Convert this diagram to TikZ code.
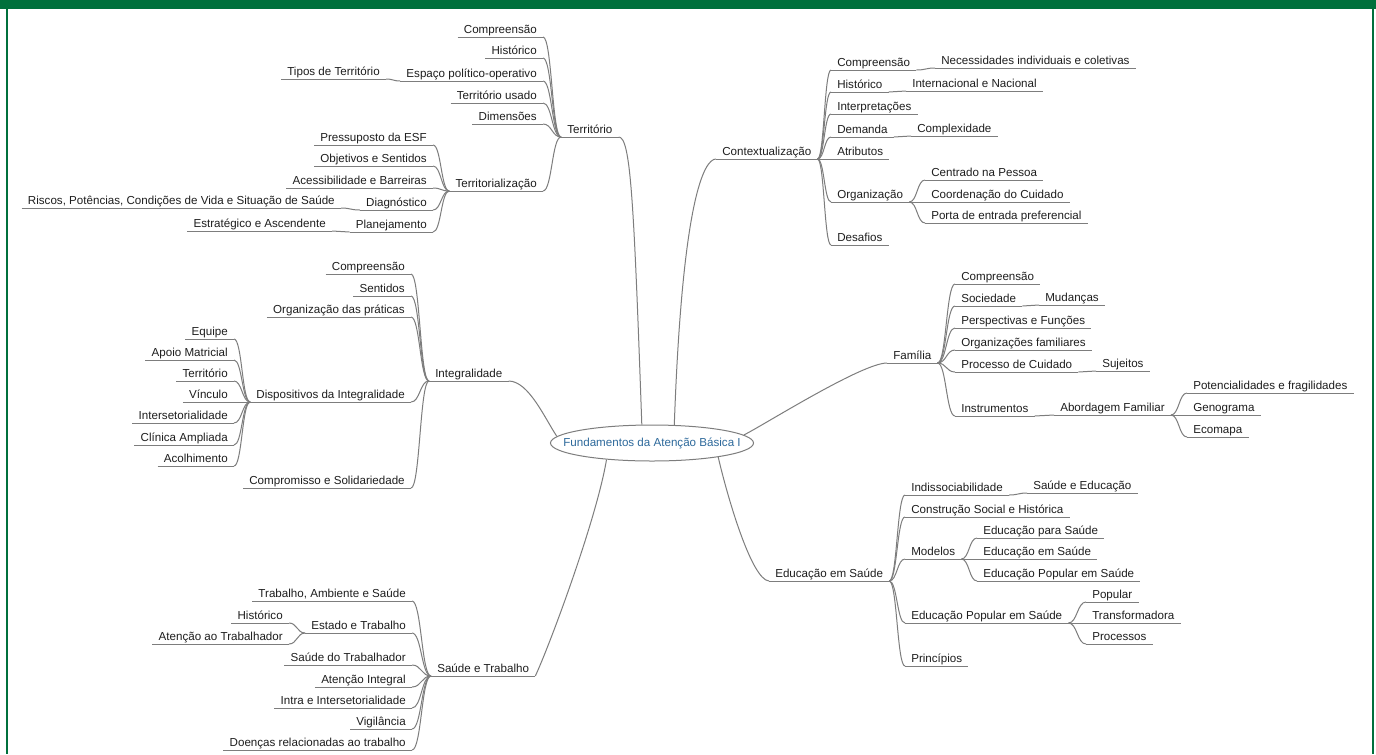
\documentclass[tikz,border=0pt]{standalone}
\usepackage{fontspec}
\setmainfont{Liberation Sans}
\usetikzlibrary{calc,shapes.geometric}
\definecolor{frame}{RGB}{0,112,60}
\definecolor{ln}{RGB}{125,125,125}
\definecolor{txt}{RGB}{30,30,30}
\definecolor{ctr}{RGB}{45,105,155}
\begin{document}
\begin{tikzpicture}[x=0.75pt,y=-0.75pt,
  ul/.style={draw=ln,line width=0.75pt},
  tb/.style={font=\fontsize{8.7}{10}\selectfont, text=txt, inner xsep=4.5pt, inner ysep=0.75pt,
    text height=6.4pt, text depth=2pt,
    append after command={(\tikzlastnode.south west) edge[ul] (\tikzlastnode.south east)}},
  lt/.style={tb,anchor=south east},
  rt/.style={tb,anchor=south west},
  fork/.style={ul, to path={let \p1=(\tikztostart), \p2=(\tikztotarget) in
    .. controls ({0.5*\x1+0.5*\x2},\y1) and ({0.5*\x1+0.5*\x2},\y2) .. (\tikztotarget)}},
  center/.style={ellipse, draw=ln, line width=0.75pt, minimum width=152.25pt, minimum height=27pt,
    inner sep=0pt, text=ctr, font=\fontsize{8.7}{10}\selectfont}
]
\useasboundingbox (0,0) rectangle (1376,754);
\fill[white] (0,0) rectangle (1376,754);
\fill[frame] (0,0) rectangle (1376,9);
\draw[frame, line width=1.5pt] (7,9) -- (7,754);
\draw[frame, line width=1.5pt] (1373,9) -- (1373,754);

% central
\node[center] (c) at (652,443) {\makebox[0pt]{Fundamentos da Atenção Básica I}};

% ---------- Territorio ----------
\node[rt] (terr) at (561,137) {Território};
\node[lt] (t1) at (543,37) {Compreensão};
\node[lt] (t2) at (543,58) {Histórico};
\node[lt] (t3) at (543,81) {Espaço político-operativo};
\node[lt] (t3a) at (386,79) {Tipos de Território};
\node[lt] (t4) at (543,103) {Território usado};
\node[lt] (t5) at (543,124) {Dimensões};
\node[lt] (t6) at (543,191) {Territorialização};
\node[lt] (t6a) at (433,145) {Pressuposto da ESF};
\node[lt] (t6b) at (433,166) {Objetivos e Sentidos};
\node[lt] (t6c) at (433,188) {Acessibilidade e Barreiras};
\node[lt] (t6d) at (433,210) {Diagnóstico};
\node[lt] (t6d1) at (341,208) {Riscos, Potências, Condições de Vida e Situação de Saúde};
\node[lt] (t6e) at (433,232) {Planejamento};
\node[lt] (t6e1) at (332,231) {Estratégico e Ascendente};
\foreach \q in {t1,t2,t3,t4,t5,t6} \draw[fork] (terr.south west) to (\q.south east);
\draw[fork] (t3.south west) to (t3a.south east);
\foreach \q in {t6a,t6b,t6c,t6d,t6e} \draw[fork] (t6.south west) to (\q.south east);
\draw[fork] (t6d.south west) to (t6d1.south east);
\draw[fork] (t6e.south west) to (t6e1.south east);

% ---------- Integralidade ----------
\node[rt] (integ) at (429,381) {Integralidade};
\node[lt] (i1) at (411,274) {Compreensão};
\node[lt] (i2) at (411,296) {Sentidos};
\node[lt] (i3) at (411,317) {Organização das práticas};
\node[lt] (i4) at (411,402) {Dispositivos da Integralidade};
\node[lt] (i4a) at (234,339) {Equipe};
\node[lt] (i4b) at (234,360) {Apoio Matricial};
\node[lt] (i4c) at (234,381) {Território};
\node[lt] (i4d) at (234,402) {Vínculo};
\node[lt] (i4e) at (234,423) {Intersetorialidade};
\node[lt] (i4f) at (234,445) {Clínica Ampliada};
\node[lt] (i4g) at (234,466) {Acolhimento};
\node[lt] (i5) at (411,488) {Compromisso e Solidariedade};
\foreach \q in {i1,i2,i3,i4,i5} \draw[fork] (integ.south west) to (\q.south east);
\foreach \q in {i4a,i4b,i4c,i4d,i4e,i4f,i4g} \draw[fork] (i4.south west) to (\q.south east);

% ---------- Saude e Trabalho ----------
\node[rt] (st) at (431,676) {Saúde e Trabalho};
\node[lt] (s1) at (412,601) {Trabalho, Ambiente e Saúde};
\node[lt] (s2) at (412,633) {Estado e Trabalho};
\node[lt] (s2a) at (289,623) {Histórico};
\node[lt] (s2b) at (289,644) {Atenção ao Trabalhador};
\node[lt] (s3) at (412,665) {Saúde do Trabalhador};
\node[lt] (s4) at (412,687) {Atenção Integral};
\node[lt] (s5) at (412,708) {Intra e Intersetorialidade};
\node[lt] (s6) at (412,729) {Vigilância};
\node[lt] (s7) at (412,750) {Doenças relacionadas ao trabalho};
\foreach \q in {s1,s2,s3,s4,s5,s6,s7} \draw[fork] (st.south west) to (\q.south east);
\foreach \q in {s2a,s2b} \draw[fork] (s2.south west) to (\q.south east);

% ---------- Contextualizacao ----------
\node[rt] (ctx) at (716,159) {Contextualização};
\node[rt] (k1) at (831,70) {Compreensão};
\node[rt] (k1a) at (935,68) {Necessidades individuais e coletivas};
\node[rt] (k2) at (831,92) {Histórico};
\node[rt] (k2a) at (906,91) {Internacional e Nacional};
\node[rt] (k3) at (831,114) {Interpretações};
\node[rt] (k4) at (831,137) {Demanda};
\node[rt] (k4a) at (911,136) {Complexidade};
\node[rt] (k5) at (831,159) {Atributos};
\node[rt] (k6) at (831,202) {Organização};
\node[rt] (k6a) at (925,180) {Centrado na Pessoa};
\node[rt] (k6b) at (925,202) {Coordenação do Cuidado};
\node[rt] (k6c) at (925,223) {Porta de entrada preferencial};
\node[rt] (k7) at (831,245) {Desafios};
\foreach \q in {k1,k2,k3,k4,k5,k6,k7} \draw[fork] (ctx.south east) to (\q.south west);
\draw[fork] (k1.south east) to (k1a.south west);
\draw[fork] (k2.south east) to (k2a.south west);
\draw[fork] (k4.south east) to (k4a.south west);
\foreach \q in {k6a,k6b,k6c} \draw[fork] (k6.south east) to (\q.south west);

% ---------- Familia ----------
\node[rt] (fam) at (887,363) {Família};
\node[rt] (f1) at (955,284) {Compreensão};
\node[rt] (f2) at (955,306) {Sociedade};
\node[rt] (f2a) at (1039,305) {Mudanças};
\node[rt] (f3) at (955,328) {Perspectivas e Funções};
\node[rt] (f4) at (955,350) {Organizações familiares};
\node[rt] (f5) at (955,372) {Processo de Cuidado};
\node[rt] (f5a) at (1096,371) {Sujeitos};
\node[rt] (f6) at (955,416) {Instrumentos};
\node[rt] (f6a) at (1054,415) {Abordagem Familiar};
\node[rt] (f6a1) at (1187,393) {Potencialidades e fragilidades};
\node[rt] (f6a2) at (1187,415) {Genograma};
\node[rt] (f6a3) at (1187,437) {Ecomapa};
\foreach \q in {f1,f2,f3,f4,f5,f6} \draw[fork] (fam.south east) to (\q.south west);
\draw[fork] (f2.south east) to (f2a.south west);
\draw[fork] (f5.south east) to (f5a.south west);
\draw[fork] (f6.south east) to (f6a.south west);
\foreach \q in {f6a1,f6a2,f6a3} \draw[fork] (f6a.south east) to (\q.south west);

% ---------- Educacao em Saude ----------
\node[rt] (edu) at (769,581) {Educação em Saúde};
\node[rt] (e1) at (905,495) {Indissociabilidade};
\node[rt] (e1a) at (1027,493) {Saúde e Educação};
\node[rt] (e2) at (905,517) {Construção Social e Histórica};
\node[rt] (e3) at (905,559) {Modelos};
\node[rt] (e3a) at (977,538) {Educação para Saúde};
\node[rt] (e3b) at (977,559) {Educação em Saúde};
\node[rt] (e3c) at (977,581) {Educação Popular em Saúde};
\node[rt] (e4) at (905,623) {Educação Popular em Saúde};
\node[rt] (e4a) at (1086,602) {Popular};
\node[rt] (e4b) at (1086,623) {Transformadora};
\node[rt] (e4c) at (1086,644) {Processos};
\node[rt] (e5) at (905,666) {Princípios};
\foreach \q in {e1,e2,e3,e4,e5} \draw[fork] (edu.south east) to (\q.south west);
\draw[fork] (e1.south east) to (e1a.south west);
\foreach \q in {e3a,e3b,e3c} \draw[fork] (e3.south east) to (\q.south west);
\foreach \q in {e4a,e4b,e4c} \draw[fork] (e4.south east) to (\q.south west);

% ---------- main branches ----------
\draw[ul] (terr.south east) .. controls +(12,0) and +(-8,-225) .. (c.119);
\draw[ul] (ctx.south west) .. controls +(-12,0) and +(8,-225) .. (c.39);
\draw[ul] (integ.south east) .. controls +(20,0) and +(-12,-18) .. (c.176);
\draw[ul] (st.south east) .. controls +(14,-30) and +(-10,60) .. (c.200);
\draw[ul] (fam.south west) .. controls +(-25,0) and +(20,-10) .. (c.5);
\draw[ul] (edu.south west) .. controls +(-17,-1) and +(10,43) .. (c.348);
\end{tikzpicture}
\end{document}
